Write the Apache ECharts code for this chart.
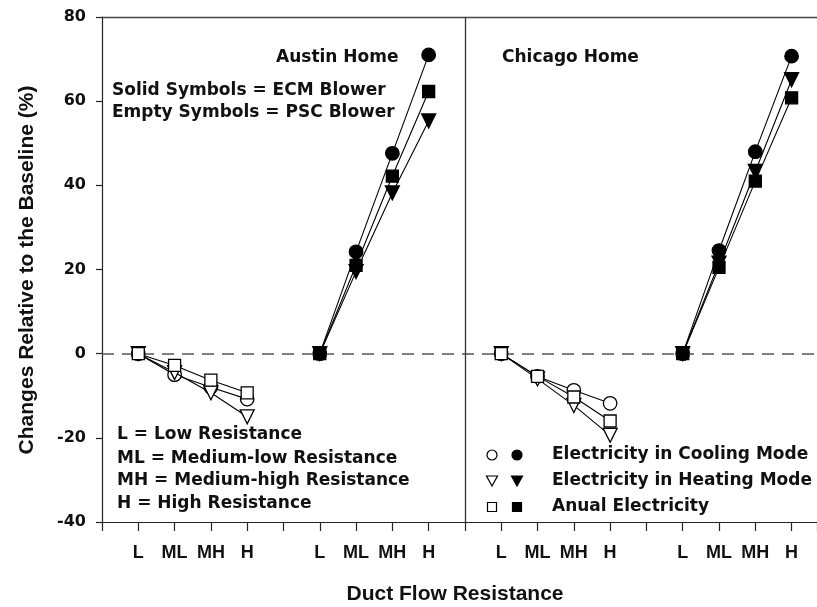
<!DOCTYPE html>
<html>
<head>
<meta charset="utf-8">
<script src="https://cdn.jsdelivr.net/npm/echarts@6/dist/echarts.min.js"></script>
<style>html,body{margin:0;padding:0;background:#fff}#c{width:817px;height:607px}</style>
</head>
<body>
<div id="c"></div>
<script>
// ---- data ----
const tickLabels = ['', 'L', 'ML', 'MH', 'H', '', 'L', 'ML', 'MH', 'H', '', 'L', 'ML', 'MH', 'H', '', 'L', 'ML', 'MH', 'H'];
const yTicks = [-40, -20, 0, 20, 40, 60, 80];
const measures = ['Electricity in Cooling Mode', 'Electricity in Heating Mode', 'Anual Electricity'];
// Austin, PSC blower (empty symbols)
const austinPscCooling = [0, -5, -8, -10.8];
const austinPscHeating = [0, -4.5, -9.3, -15];
const austinPscAnnual  = [0, -2.8, -6.3, -9.3];
// Austin, ECM blower (solid symbols)
const austinEcmCooling = [0, 24.2, 47.6, 71];
const austinEcmHeating = [0, 19.5, 38.2, 55.3];
const austinEcmAnnual  = [0, 21, 42.2, 62.3];
// Chicago, PSC blower
const chicagoPscCooling = [0, -5.4, -8.7, -11.8];
const chicagoPscHeating = [0, -6, -12.3, -19.4];
const chicagoPscAnnual  = [0, -5.4, -10.3, -16];
// Chicago, ECM blower
const chicagoEcmCooling = [0, 24.5, 48, 70.7];
const chicagoEcmHeating = [0, 21.5, 43.3, 65.1];
const chicagoEcmAnnual  = [0, 20.5, 41, 60.8];

// ---- build ----
const groupIdx = [];
let cur = [];
tickLabels.forEach((t, i) => { if (t) { cur.push(i); if (cur.length === 4) { groupIdx.push(cur); cur = []; } } });
const dividerX = tickLabels.length / 2;
const xMax = 19.7; // plot is cut at the right edge of the picture

const groups = [
  { x: groupIdx[0], solid: false, vals: [austinPscCooling, austinPscHeating, austinPscAnnual] },
  { x: groupIdx[1], solid: true,  vals: [austinEcmCooling, austinEcmHeating, austinEcmAnnual] },
  { x: groupIdx[2], solid: false, vals: [chicagoPscCooling, chicagoPscHeating, chicagoPscAnnual] },
  { x: groupIdx[3], solid: true,  vals: [chicagoEcmCooling, chicagoEcmHeating, chicagoEcmAnnual] }
];
const symbols = ['circle', 'triangle', 'rect'];
const sizes = [13.5, 14, 12];
const rot = [0, 180, 0];

const series = [];
groups.forEach((g, gi) => {
  g.vals.forEach((v, mi) => {
    series.push({
      type: 'line',
      name: measures[mi],
      data: v.map((y, k) => [g.x[k], y]),
      symbol: symbols[mi],
      symbolSize: sizes[mi],
      symbolRotate: rot[mi],
      showAllSymbol: true,
      animation: false,
      lineStyle: { color: '#000', width: 1.1 },
      itemStyle: { color: g.solid ? '#000' : '#fff', borderColor: '#000', borderWidth: 1.3 },
      z: 3 + mi
    });
  });
});
series.push({
  type: 'line', data: [], silent: true, animation: false,
  markLine: {
    silent: true, symbol: 'none', animation: false, label: { show: false },
    data: [
      { yAxis: 0, lineStyle: { type: [12, 8], color: '#555', width: 1.5 } },
      { xAxis: dividerX, lineStyle: { type: 'solid', color: '#333', width: 1.3 } }
    ]
  }
});

const txtFont = 'bold 17px "DejaVu Sans"';
const graphics = [];
function addText(t, x, y, font, extra) {
  graphics.push(Object.assign({ type: 'text', x: x, y: y, style: { text: t, font: font || txtFont, fill: '#111', align: 'left', verticalAlign: 'middle' } }, extra || {}));
}
addText('Austin Home', 276, 58);
addText('Chicago Home', 502, 58);
addText('Solid Symbols = ECM Blower', 112, 91);
addText('Empty Symbols = PSC Blower', 112, 113);
addText('L = Low Resistance', 117, 435);
addText('ML = Medium-low Resistance', 117, 459);
addText('MH = Medium-high Resistance', 117, 481);
addText('H = High Resistance', 117, 504);
const legY = [455, 481, 507];
measures.forEach((m, i) => addText(m, 552, legY[i]));
// legend symbols
const lx = [492, 517];
lx.forEach((x, j) => {
  const fill = j === 0 ? '#fff' : '#000';
  graphics.push({ type: 'circle', shape: { cx: x, cy: legY[0], r: 5 }, style: { fill: fill, stroke: '#000', lineWidth: 1.2 } });
  graphics.push({ type: 'polygon', shape: { points: [[x - 5.5, legY[1] - 5], [x + 5.5, legY[1] - 5], [x, legY[1] + 5]] }, style: { fill: fill, stroke: '#000', lineWidth: 1.2 } });
  graphics.push({ type: 'rect', shape: { x: x - 4.5, y: legY[2] - 4.5, width: 9, height: 9 }, style: { fill: fill, stroke: '#000', lineWidth: 1.2 } });
});
// axis titles
graphics.push({ type: 'text', x: 27, y: 270, rotation: Math.PI / 2,
  style: { text: 'Changes Relative to the Baseline (%)', font: 'bold 21px "Liberation Sans"', fill: '#111', align: 'center', verticalAlign: 'middle' } });
graphics.push({ type: 'text', x: 455, y: 594,
  style: { text: 'Duct Flow Resistance', font: 'bold 21px "Liberation Sans"', fill: '#111', align: 'center', verticalAlign: 'middle' } });

const chart = echarts.init(document.getElementById('c'), null, { renderer: 'canvas' });
chart.setOption({
  animation: false,
  backgroundColor: '#fff',
  grid: { left: 102, top: 17, bottom: 85, right: 0, outerBoundsMode: 'none' },
  xAxis: [{
    type: 'value', min: 0, max: xMax, interval: 1,
    axisLine: { show: true, onZero: false, lineStyle: { color: '#222', width: 1.2 } },
    axisTick: { show: true, length: 9, inside: false, lineStyle: { color: '#222', width: 1.2 } },
    splitLine: { show: false },
    axisLabel: { margin: 22, color: '#111', fontFamily: '"Liberation Sans Narrow", "Liberation Sans"', fontWeight: 'bold', fontSize: 18,
      formatter: v => (Number.isInteger(v) && tickLabels[v]) ? tickLabels[v] : '' }
  }, {
    type: 'value', position: 'top', min: 0, max: xMax,
    axisLine: { show: true, onZero: false, lineStyle: { color: '#444', width: 1.3 } },
    axisTick: { show: false }, axisLabel: { show: false }, splitLine: { show: false }
  }],
  yAxis: {
    type: 'value', min: yTicks[0], max: yTicks[yTicks.length - 1], interval: 20,
    axisLine: { show: true, lineStyle: { color: '#222', width: 1.2 } },
    axisTick: { show: true, length: 6, lineStyle: { color: '#222', width: 1.2 } },
    splitLine: { show: false },
    axisLabel: { margin: 16, color: '#111', fontFamily: '"DejaVu Sans"', fontWeight: 'bold', fontSize: 16 }
  },
  series: series,
  graphic: graphics
});
</script>
</body>
</html>
